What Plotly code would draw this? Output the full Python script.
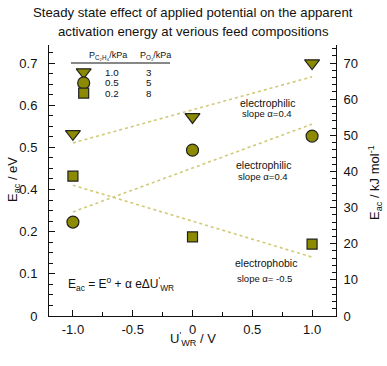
import plotly.graph_objects as go

# ---- data (y in kJ/mol) ----
potential = [-1.0, 0.0, 1.0]
e_tri = [50.4, 55.1, 70.0]      # P_C2H4 = 1.0 kPa, P_O2 = 3 kPa
e_circ = [26.0, 45.9, 49.8]     # P_C2H4 = 0.5 kPa, P_O2 = 5 kPa
e_sq = [38.7, 21.9, 19.9]       # P_C2H4 = 0.2 kPa, P_O2 = 8 kPa
fit_x = [-1.0, 1.0]
fit_top = [47.9, 66.2]
fit_mid = [28.8, 53.1]
fit_low = [36.2, 16.3]
left_tick_text = ["0", "0.1", "0.2", "0.4", "0.5", "0.6", "0.7"]
x_tick_vals = [-1.0, -0.5, 0.0, 0.5, 1.0]
x_tick_text = ["-1.0", "-0.5", "0", "0.5", "1.0"]
legend_c2h4 = ["1.0", "0.5", "0.2"]
legend_o2 = ["3", "5", "8"]

FONT = "Arial, Liberation Sans, sans-serif"
OLIVE = "#8c8a00"
LINEC = "#d0ca78"

L, R, T, B = 49, 51, 45, 50
W, H = 387, 366
PW, PH = W - L - R, H - T - B


def px(x):
    return (x - L) / PW


def py(y):
    return (H - B - y) / PH


fig = go.Figure()

for fy in (fit_top, fit_mid, fit_low):
    fig.add_trace(go.Scatter(x=fit_x, y=fy, mode="lines",
                             line=dict(color=LINEC, width=1.6, dash="dot"),
                             showlegend=False, hoverinfo="skip"))

mk = dict(color=OLIVE, line=dict(color="#222", width=1.2))
fig.add_trace(go.Scatter(x=potential, y=e_tri, mode="markers",
                         marker=dict(symbol="triangle-down", size=13, **mk), showlegend=False))
fig.add_trace(go.Scatter(x=potential, y=e_circ, mode="markers",
                         marker=dict(symbol="circle", size=12, **mk), showlegend=False))
fig.add_trace(go.Scatter(x=potential, y=e_sq, mode="markers",
                         marker=dict(symbol="square", size=10, **mk), showlegend=False))

# legend keys (table style)
key_x = -0.91
key_y = [67.5, 64.5, 61.7]
for sym, sz, ky in (("triangle-down", 13, key_y[0]), ("circle", 12, key_y[1]), ("square", 10, key_y[2])):
    fig.add_trace(go.Scatter(x=[key_x], y=[ky], mode="markers",
                             marker=dict(symbol=sym, size=sz, **mk), showlegend=False))

# invisible trace for right axis
fig.add_trace(go.Scatter(x=[0], y=[0], yaxis="y2", mode="markers",
                         marker=dict(opacity=0), showlegend=False, hoverinfo="skip"))

ann = []


def text(x, y, s, size, anchor="center", angle=0, ref="paper"):
    ann.append(dict(x=x, y=y, xref=ref if ref == "paper" else "x", yref=ref if ref == "paper" else "y",
                    text=s, showarrow=False, xanchor=anchor, yanchor="middle", borderpad=0,
                    textangle=angle, font=dict(family=FONT, size=size, color="#111")))


# title
text(px(193), py(12), "Steady state effect of applied potential on the apparent", 13.2)
text(px(193), py(32), "activation energy at verious feed compositions", 13.2)

# axis titles
text(px(13), py(180), "E<sub>ac</sub> / eV", 13, angle=-90)
text(px(375), py(183), "E<sub>ac</sub> / kJ mol<sup>-1</sup>", 13, angle=-90)
text(px(193), py(339), "U<sup>'</sup><sub>WR</sub> / V", 13)

# legend table
text(px(108), py(55), "P<sub>C₂H₄</sub>/kPa", 9)
text(px(139), py(55), "P<sub>O₂</sub>/kPa", 9, anchor="left")
for v, ky in zip(legend_c2h4, key_y):
    text(-0.675, ky, v, 9.8, ref="data")
for v, ky in zip(legend_o2, key_y):
    text(-0.36, ky, v, 9.8, ref="data")

# line labels
text(px(267), py(103), "electrophilic", 10.5)
text(px(267), py(113), "slope α=0.4", 9.5)
text(px(263), py(165), "electrophilic", 10.5)
text(px(263), py(176), "slope α=0.4", 9.5)
text(px(266), py(263), "electrophobic", 10.5)
text(px(264), py(278), "slope α= -0.5", 9.5)

# equation
text(px(67), py(284), "E<sub>ac</sub> = E<sup>o</sup> + α eΔU<sup>'</sup><sub>WR</sub>", 12, anchor="left")

fig.update_layout(
    width=W, height=H,
    margin=dict(l=L, r=R, t=T, b=B, pad=0),
    paper_bgcolor="white", plot_bgcolor="white",
    font=dict(family=FONT, size=13, color="#111"),
    annotations=ann,
    shapes=[dict(type="line", xref="paper", yref="paper",
                 x0=px(71), x1=px(170), y0=py(63), y1=py(63),
                 line=dict(color="#111", width=1))],
    xaxis=dict(range=[-1.2, 1.2], showline=True, linecolor="#111", linewidth=1,
               mirror=False, showgrid=False, zeroline=False,
               ticks="inside", ticklen=6, tickcolor="#111",
               tickvals=x_tick_vals, ticktext=x_tick_text,
               ticklabelstandoff=1,
               minor=dict(ticks="inside", ticklen=4, dtick=0.25, tick0=0, tickcolor="#111", showgrid=False),
               tickfont=dict(size=13, family=FONT)),
    yaxis=dict(range=[0, 75], showline=True, linecolor="#111", linewidth=1,
               showgrid=False, zeroline=False,
               ticks="inside", ticklen=6, tickcolor="#111",
               tickvals=[70 / 6 * k for k in range(7)], ticktext=left_tick_text,
               ticklabelstandoff=8,
               minor=dict(ticks="inside", ticklen=4, tickmode="array",
                          tickvals=[70 / 24 * k for k in range(26)], tickcolor="#111", showgrid=False),
               tickfont=dict(size=13, family=FONT)),
    yaxis2=dict(range=[0, 75], overlaying="y", side="right", anchor="x",
                showline=True, linecolor="#111", linewidth=1,
                showgrid=False, zeroline=False,
                ticks="inside", ticklen=6, tickcolor="#111",
                tickvals=[0, 10, 20, 30, 40, 50, 60, 70],
                ticklabelstandoff=4,
                minor=dict(ticks="inside", ticklen=4, dtick=2, tick0=0, tickcolor="#111", showgrid=False),
                tickfont=dict(size=13, family=FONT)),
)

fig.write_html("out.html", config={"displayModeBar": False},
               post_script="document.body.style.margin='0';")
